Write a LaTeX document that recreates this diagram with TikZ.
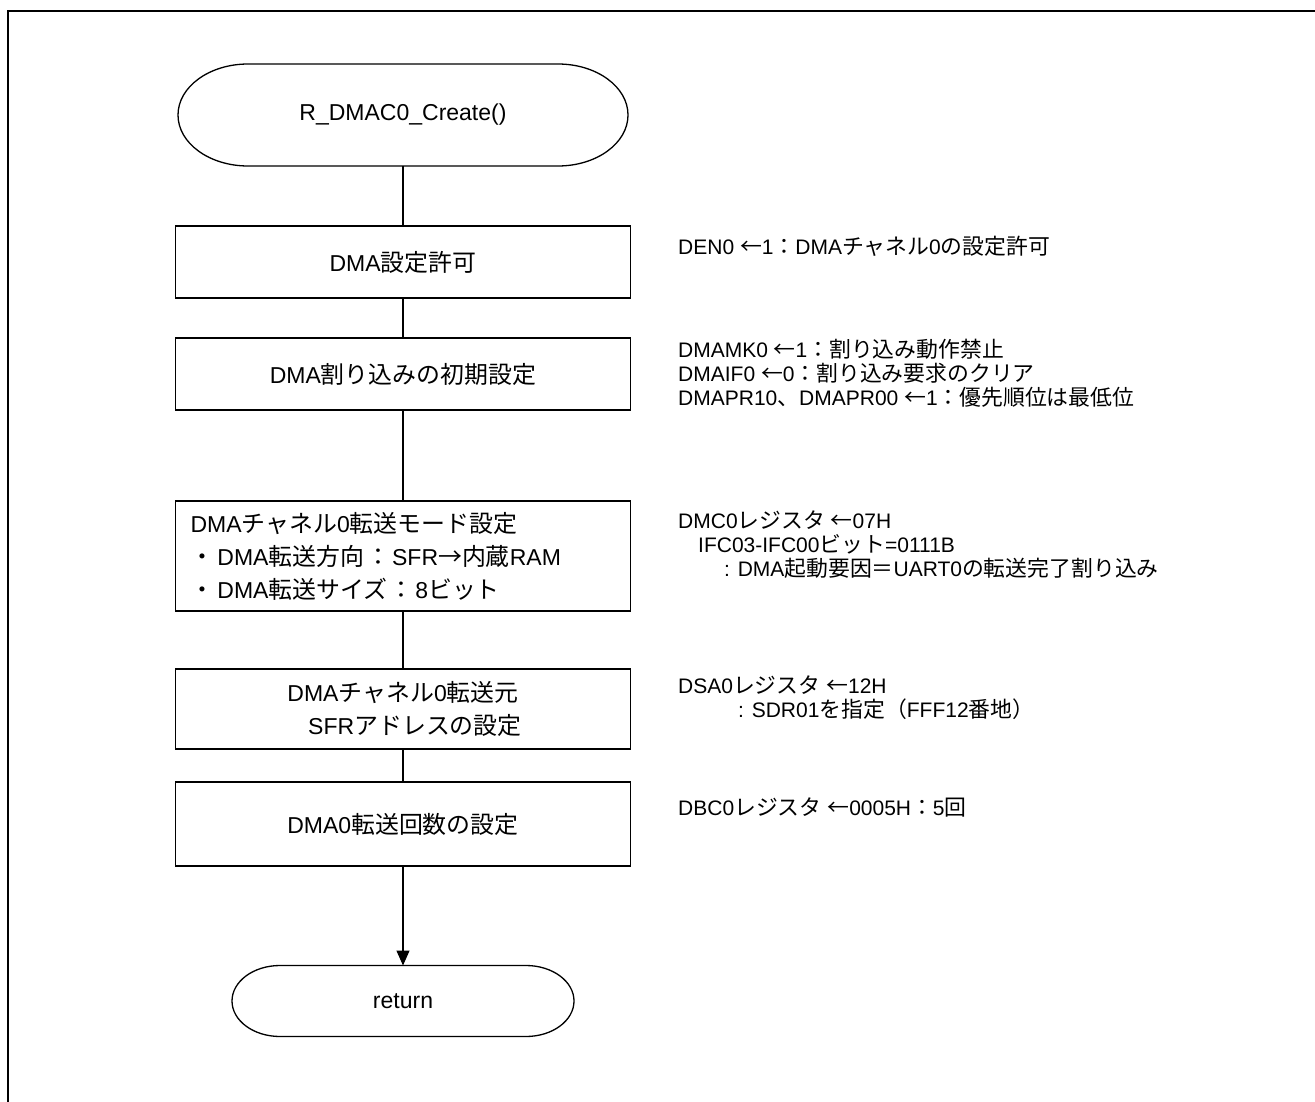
\documentclass[tikz,border=0pt]{standalone}
\usepackage{fontspec}
\setmainfont{Liberation Sans}
\newfontfamily\jp[Scale=1.04]{Noto Sans CJK JP}
\usetikzlibrary{arrows.meta}
\newcommand\stadium[3]{\draw[line width=1.3pt] ([xshift=#2]#1.north west) -- ([xshift=-#2]#1.north east) arc[start angle=90,end angle=-90,x radius=#2,y radius=#3] -- ([xshift=#2]#1.south west) arc[start angle=270,end angle=90,x radius=#2,y radius=#3] -- cycle;}
\newcommand\jc{{\jp\hspace{2pt}：\hspace{2pt}}}
\begin{document}
\begin{tikzpicture}[x=1pt,y=-1pt,
  box/.style={draw, line width=1.3pt, minimum width=455pt, inner sep=0pt, outer sep=0pt, align=center, font=\fontsize{23}{33}\selectfont},
  termtext/.style={inner sep=0pt, outer sep=0pt, font=\fontsize{23}{33}\selectfont},
  note/.style={anchor=west, align=left, inner sep=0pt, font=\fontsize{21}{24}\selectfont},
  conn/.style={line width=1.3pt}]
\useasboundingbox (0,0) rectangle (1315,1102);
\fill[white] (0,0) rectangle (1315,1102);
\draw[line width=2.5pt] (8,1104) -- (8,11) -- (1316,11);

\node[termtext, minimum width=450pt, minimum height=102pt] (start) at (403,115) {R\_DMAC0\_Create()};
\stadium{start}{70pt}{51pt}
\node[box, minimum height=72pt] (b1) at (403,262) {DMA{\jp 設定許可}};
\node[box, minimum height=72pt] (b2) at (403,374) {DMA{\jp 割り込みの初期設定}};
\node[box, minimum height=110pt, text width=425pt, inner xsep=15pt, align=left] (b3) at (403,556)
  {DMA{\jp チャネル}0{\jp 転送モード設定}\\
   {\jp ・}\hspace{3pt}DMA{\jp 転送方向}\jc SFR{\jp →内蔵}RAM\\
   {\jp ・}\hspace{3pt}DMA{\jp 転送サイズ}\jc 8{\jp ビット}};
\node[box, minimum height=80pt] (b4) at (403,709) {DMA{\jp チャネル}0{\jp 転送元}\\{\jp 　}SFR{\jp アドレスの設定}};
\node[box, minimum height=84pt] (b5) at (403,824) {DMA0{\jp 転送回数の設定}};
\node[termtext, minimum width=342pt, minimum height=71pt] (ret) at (403,1001) {return};
\stadium{ret}{48pt}{35.5pt}

\draw[conn] (start.south) -- (b1.north);
\draw[conn] (b1.south) -- (b2.north);
\draw[conn] (b2.south) -- (b3.north);
\draw[conn] (b3.south) -- (b4.north);
\draw[conn] (b4.south) -- (b5.north);
\draw[conn, -{Triangle[width=13pt,length=15pt]}] (b5.south) -- (ret.north);

\node[note] (n1) at (678,246) {DEN0 {\jp ←}1{\jp ：}DMA{\jp チャネル}0{\jp の設定許可}};
\node[note] (n2) at (678,373) {DMAMK0 {\jp ←}1{\jp ：割り込み動作禁止}\\
  DMAIF0 {\jp ←}0{\jp ：割り込み要求のクリア}\\
  DMAPR10{\jp 、}DMAPR00 {\jp ←}1{\jp ：優先順位は最低位}};
\node[note] (n3) at (678,545) {DMC0{\jp レジスタ} {\jp ←}07H\\
  \hspace*{20pt}IFC03-IFC00{\jp ビット}=0111B\\
  \hspace*{46pt}: DMA{\jp 起動要因＝}UART0{\jp の転送完了割り込み}};
\node[note] (n4) at (678,698) {DSA0{\jp レジスタ} {\jp ←}12H\\
  \hspace*{60pt}: SDR01{\jp を指定（}FFF12{\jp 番地）}};
\node[note] (n5) at (678,807) {DBC0{\jp レジスタ} {\jp ←}0005H{\jp ：}5{\jp 回}};
\end{tikzpicture}
\end{document}
